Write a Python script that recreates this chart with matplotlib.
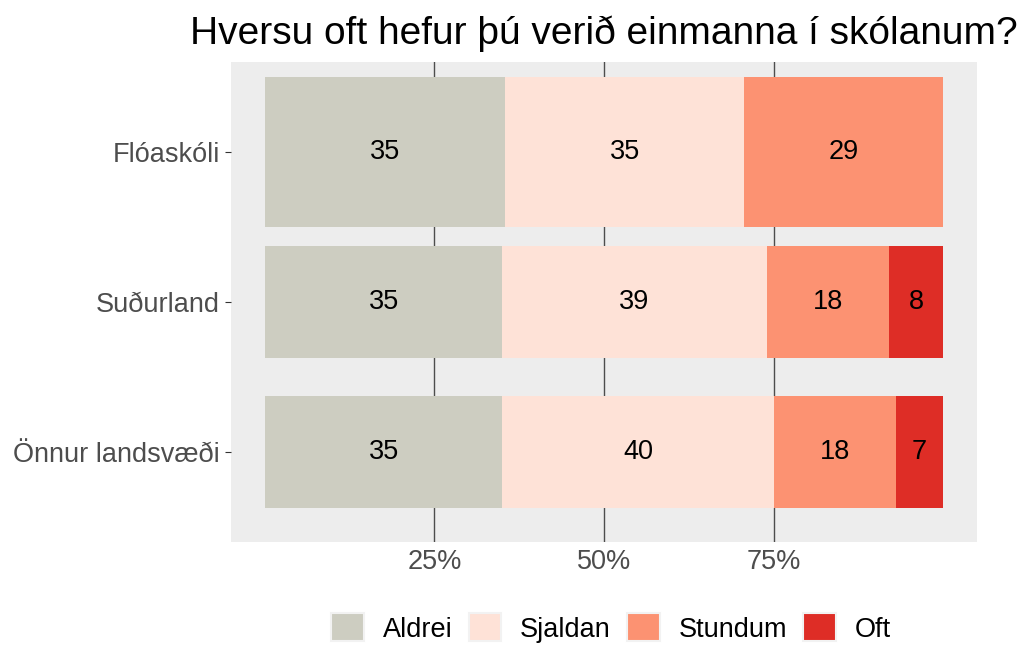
import matplotlib.pyplot as plt
import matplotlib.patches as mpatches
import numpy as np

plt.rcParams['font.family'] = ['Liberation Sans', 'DejaVu Sans']

TITLE = 'Hversu oft hefur þú verið einmanna í skólanum?'
regions = ['Flóaskóli', 'Suðurland', 'Önnur landsvæði']
answers = ['Aldrei', 'Sjaldan', 'Stundum', 'Oft']
colors = ['#CDCDC1', '#FEE2D7', '#FC9272', '#DE2D26']

# percent per answer, one list per region
aldrei = [35, 35, 35]
sjaldan = [35, 39, 40]
stundum = [29, 18, 18]
oft = [0, 8, 7]

values = np.array([aldrei, sjaldan, stundum, oft], dtype=float)
shares = values / values.sum(axis=0)

bar_heights = [1.0, 0.75, 0.75]

fig = plt.figure(figsize=(10.27, 6.45), dpi=100)
ax = fig.add_axes([231 / 1027, 103 / 645, 746 / 1027, 480 / 645])
ax.set_facecolor('#EDEDED')

ypos = np.arange(len(regions))
left = np.zeros(len(regions))
for i, ans in enumerate(answers):
    ax.barh(ypos, shares[i], left=left, height=bar_heights, color=colors[i],
            label=ans, zorder=2)
    for j in range(len(regions)):
        if values[i, j] > 0:
            ax.text(left[j] + shares[i, j] / 2, ypos[j], '%d' % values[i, j],
                    ha='center', va='center', fontsize=19.5, color='black',
                    zorder=3)
    left += shares[i]

# dark vertical grid lines, behind the bars
for gx in [0.25, 0.5, 0.75]:
    ax.axvline(gx, color='#4D4D4D', lw=1.0, zorder=1)

ax.set_xlim(-0.05, 1.05)
ax.set_ylim(len(regions) - 0.4, -0.6)
ax.set_xticks([0.25, 0.5, 0.75])
ax.set_xticklabels(['25%', '50%', '75%'])
ax.set_yticks(ypos)
ax.set_yticklabels(regions)
ax.tick_params(axis='x', length=0, pad=5, labelsize=19.5, labelcolor='#4D4D4D')
ax.tick_params(axis='y', length=4, width=0.8, color='#333333', pad=4,
               labelsize=19.5, labelcolor='#4D4D4D')
for s in ax.spines.values():
    s.set_visible(False)

ax.set_title(TITLE, fontsize=28, pad=13)

handles = [mpatches.Patch(facecolor=c, edgecolor='#F2F2F2', lw=1.5, label=a)
           for a, c in zip(answers, colors)]
fig.legend(handles=handles, loc='center', ncol=4, frameon=False,
           bbox_to_anchor=(611 / 1027, 1 - 628 / 645), fontsize=19.5,
           handlelength=1.2, handleheight=1.2, handletextpad=0.7,
           columnspacing=0.6)

fig.savefig('out.png', dpi=100)
